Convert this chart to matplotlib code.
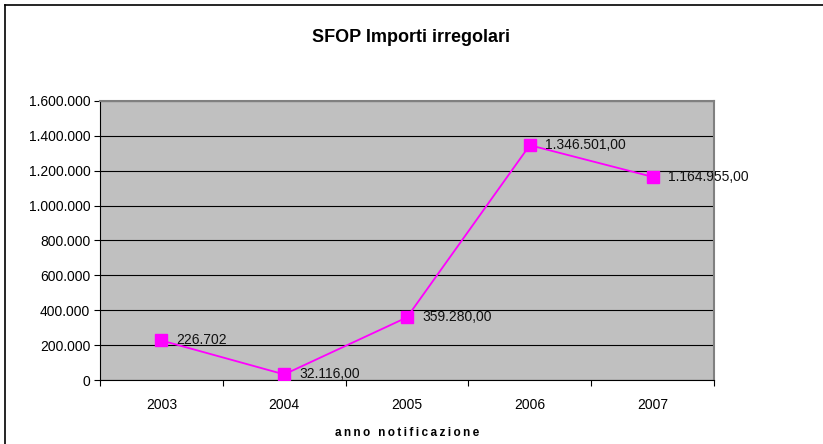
import matplotlib.pyplot as plt
from matplotlib.lines import Line2D

# data
years = ["2003", "2004", "2005", "2006", "2007"]
importi = [226702, 32116, 359280, 1346501, 1164955]
etichette = ["226.702", "32.116,00", "359.280,00", "1.346.501,00", "1.164.955,00"]
yticks = [0, 200000, 400000, 600000, 800000, 1000000, 1200000, 1400000, 1600000]
ytick_labels = ["0", "200.000", "400.000", "600.000", "800.000",
                "1.000.000", "1.200.000", "1.400.000", "1.600.000"]

plt.rcParams["font.family"] = ["Liberation Sans", "DejaVu Sans"]

fig = plt.figure(figsize=(8.23, 4.44), dpi=100)
ax = fig.add_axes([100 / 823, 1 - 380 / 444, 614 / 823, 279 / 444])
ax.set_facecolor("#C0C0C0")

x = list(range(len(years)))
ax.plot(x, importi, color="#FF00FF", linewidth=1.3, marker="s",
        markersize=8.5, zorder=3)
for xi, yi, lab in zip(x, importi, etichette):
    ax.annotate(lab, (xi, yi), xytext=(11, 0), textcoords="offset points",
                va="center", ha="left", fontsize=10, color="#111111", zorder=4)

ax.set_xlim(-0.5, len(years) - 0.5)
ax.set_ylim(0, 1600000)
ax.set_yticks(yticks)
ax.set_yticklabels(ytick_labels, fontsize=10)
ax.set_xticks(x)
ax.set_xticklabels(years, fontsize=10)
ax.set_xticks([i - 0.5 for i in range(len(years) + 1)], minor=True)
ax.tick_params(axis="x", which="major", length=0, pad=13)
ax.tick_params(axis="x", which="minor", length=4, direction="out", width=0.8)
ax.tick_params(axis="y", length=4, direction="out", width=0.8, pad=3)
ax.yaxis.grid(True, color="black", linewidth=0.8)
ax.set_axisbelow(True)

for s in ["left", "bottom"]:
    ax.spines[s].set_color("black")
    ax.spines[s].set_linewidth(0.8)
for s in ["top", "right"]:
    ax.spines[s].set_color("#808080")
    ax.spines[s].set_linewidth(1.5)

ax.set_xlabel("\u2009".join("anno notificazione"), fontsize=8.5, fontweight="bold")
ax.xaxis.set_label_coords(0.5, -0.17)

fig.text(0.5, 1 - 37 / 444, "SFOP Importi irregolari", ha="center", va="center",
         fontsize=13, fontweight="bold")

# outer chart frame
fig.add_artist(Line2D([5 / 823, 5 / 823], [0, 1 - 5 / 444], color="black",
                      linewidth=1.2, transform=fig.transFigure))
fig.add_artist(Line2D([5 / 823, 1], [1 - 5 / 444, 1 - 5 / 444], color="black",
                      linewidth=1.2, transform=fig.transFigure))

fig.savefig("out.png", dpi=100)
